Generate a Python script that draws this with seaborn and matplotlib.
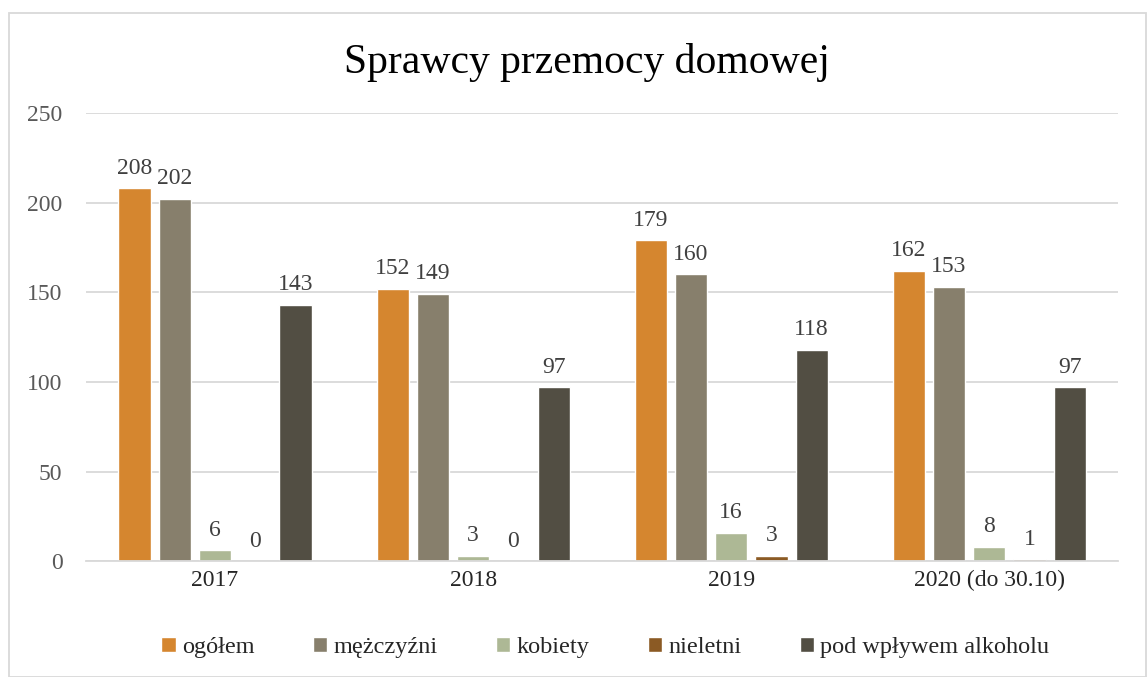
import seaborn as sns
import pandas as pd
import matplotlib.pyplot as plt
from matplotlib.patches import Rectangle

years = ['2017', '2018', '2019', '2020 (do 30.10)']
series = ['ogółem', 'mężczyźni', 'kobiety', 'nieletni', 'pod wpływem alkoholu']
ogolem = [208, 152, 179, 162]
mezczyzni = [202, 149, 160, 153]
kobiety = [6, 3, 16, 8]
nieletni = [0, 0, 3, 1]
alkohol = [143, 97, 118, 97]
colors = ['#D5862F', '#877F6C', '#ADB895', '#8B5A24', '#524E43']

df = pd.DataFrame({'rok': years, series[0]: ogolem, series[1]: mezczyzni,
                   series[2]: kobiety, series[3]: nieletni, series[4]: alkohol})
df = df.melt(id_vars='rok', var_name='grupa', value_name='liczba')

sns.set_style('white')
plt.rcParams['font.family'] = ['Liberation Serif', 'DejaVu Serif']

fig = plt.figure(figsize=(11.47, 6.77), dpi=100)
ax = fig.add_axes([0.075, 0.171, 0.9, 0.662])

sns.barplot(data=df, x='rok', y='liczba', hue='grupa', hue_order=series,
            palette=colors, width=0.78, gap=0.2, saturation=1, ax=ax,
            legend=True, errorbar=None)

for cont in ax.containers:
    ax.bar_label(cont, padding=7, fontsize=17, color='#404040')

ax.set_ylim(0, 250)
ax.set_yticks(range(0, 251, 50))
ax.yaxis.grid(True, color='#D9D9D9', lw=1.3)
ax.set_axisbelow(True)
for s in ['top', 'right', 'left']:
    ax.spines[s].set_visible(False)
ax.spines['bottom'].set_color('#D9D9D9')
ax.spines['bottom'].set_linewidth(1.3)
ax.tick_params(axis='both', length=0, labelsize=17)
ax.tick_params(axis='y', pad=17, colors='#595959')
ax.tick_params(axis='x', pad=6, colors='#262626')
ax.set_xlabel('')
ax.set_ylabel('')

fig.text(0.512, 0.908, 'Sprawcy przemocy domowej', ha='center', va='center',
         fontsize=30, color='#000000')

ax.legend(loc='center', bbox_to_anchor=(0.503, -0.192), ncol=5, frameon=False,
          fontsize=17.5, handlelength=0.6, handleheight=0.6, handletextpad=0.25,
          columnspacing=2.4, labelcolor='#262626')

fig.patches.append(Rectangle((9 / 1147, 0), 1 - 10 / 1147, 1 - 13 / 677,
                             transform=fig.transFigure, fill=False,
                             edgecolor='#D9D9D9', lw=1.3))

fig.savefig('out.png', dpi=100)
